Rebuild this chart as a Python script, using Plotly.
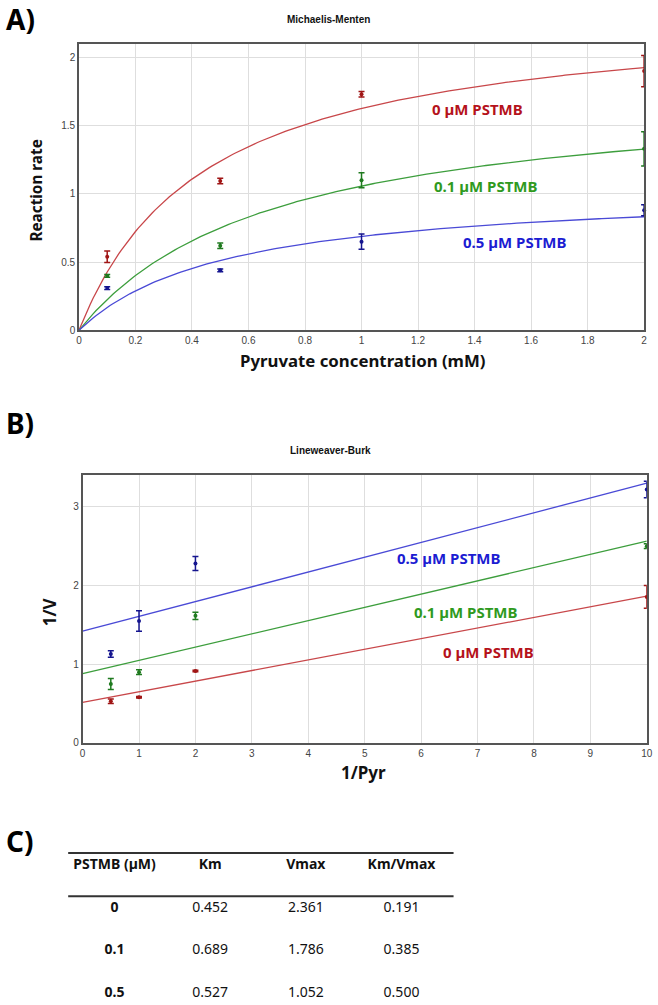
import numpy as np
import plotly.graph_objects as go

# ---------------- data ----------------
series = ["0 µM PSTMB", "0.1 µM PSTMB", "0.5 µM PSTMB"]
pstmb_labels = ["0", "0.1", "0.5"]
km = [0.452, 0.689, 0.527]
vmax = [2.361, 1.786, 1.052]
km_vmax = ["0.191", "0.385", "0.500"]

# Michaelis-Menten measured points
mm_x = [0.1, 0.5, 1, 2]
mm_y = [[0.54, 1.095, 1.73, 1.90],
        [0.40, 0.62, 1.10, 1.33],
        [0.31, 0.44, 0.65, 0.88]]
mm_err = [[0.042, 0.02, 0.02, 0.115],
          [0.01, 0.02, 0.055, 0.125],
          [0.01, 0.01, 0.056, 0.04]]

# Lineweaver-Burk measured points
lb_x = [0.5, 1, 2, 10]
lb_y = [[0.53, 0.58, 0.915, 1.855],
        [0.75, 0.90, 1.615, 2.50],
        [1.13, 1.55, 2.28, 3.22]]
lb_err = [[0.03, 0.01, 0.01, 0.145],
          [0.07, 0.03, 0.046, 0.03],
          [0.04, 0.13, 0.09, 0.105]]
# Lineweaver-Burk fit lines (value at 1/Pyr = 0 and at 1/Pyr = 10)
lb_line_x = [0, 10]
lb_line_y = [[0.515, 1.865],
             [0.88, 2.565],
             [1.42, 3.30]]

table_header = ["PSTMB (µM)", "Km", "Vmax", "Km/Vmax"]
table_km = ["0.452", "0.689", "0.527"]
table_vmax = ["2.361", "1.786", "1.052"]

# ---------------- styles ----------------
line_colors = ["#c8474a", "#3d9e3d", "#4a4ad6"]
point_colors = ["#a01515", "#1f7a1f", "#15158f"]
text_colors = ["#b5121b", "#2f9a1e", "#1c1cd2"]

W, H = 658, 1005
def px(x):
    return x / W
def py(y):
    return 1 - y / H

fig = go.Figure()

# ---- panel A ----
s_grid = np.linspace(0, 2, 201)
for i in range(3):
    fig.add_trace(go.Scatter(
        x=s_grid, y=vmax[i] * s_grid / (km[i] + s_grid), mode="lines",
        line=dict(color=line_colors[i], width=1.3), xaxis="x", yaxis="y",
        showlegend=False, hoverinfo="skip"))
for i in range(3):
    fig.add_trace(go.Scatter(
        x=mm_x, y=mm_y[i], mode="markers",
        marker=dict(color=point_colors[i], size=4),
        error_y=dict(type="data", array=mm_err[i], color=point_colors[i],
                     thickness=1.5, width=3),
        xaxis="x", yaxis="y", showlegend=False, cliponaxis=False))

# ---- panel B ----
for i in range(3):
    fig.add_trace(go.Scatter(
        x=lb_line_x, y=lb_line_y[i], mode="lines",
        line=dict(color=line_colors[i], width=1.3), xaxis="x2", yaxis="y2",
        showlegend=False, hoverinfo="skip"))
for i in range(3):
    fig.add_trace(go.Scatter(
        x=lb_x, y=lb_y[i], mode="markers",
        marker=dict(color=point_colors[i], size=4),
        error_y=dict(type="data", array=lb_err[i], color=point_colors[i],
                     thickness=1.5, width=3),
        xaxis="x2", yaxis="y2", showlegend=False, cliponaxis=False))

# ---- panel C (table) ----
cols = list(range(4))
fig.add_trace(go.Scatter(
    x=cols, y=[0] * 4, mode="text",
    text=["<b>%s</b>" % h for h in table_header],
    textfont=dict(family="Noto Sans", size=14, color="#111"),
    xaxis="x3", yaxis="y3", showlegend=False, hoverinfo="skip",
    cliponaxis=False))
for r in range(3):
    fig.add_trace(go.Scatter(
        x=cols, y=[r + 1] * 4, mode="text",
        text=["<b>%s</b>" % pstmb_labels[r], table_km[r], table_vmax[r], km_vmax[r]],
        textfont=dict(family="Noto Sans", size=14, color="#111"),
        xaxis="x3", yaxis="y3", showlegend=False, hoverinfo="skip",
        cliponaxis=False))

axis_common = dict(showgrid=True, gridcolor="#dedede", gridwidth=1,
                   zeroline=False, showline=True, linecolor="#555",
                   linewidth=1.5, mirror=True, ticks="",
                   tickfont=dict(family="Liberation Sans", size=10, color="#444"))

fig.update_layout(
    width=W, height=H, margin=dict(l=0, r=0, t=0, b=0),
    paper_bgcolor="white", plot_bgcolor="white",
    xaxis=dict(domain=[px(77), px(650)], range=[0, 2], dtick=0.2,
               anchor="y", **axis_common),
    yaxis=dict(domain=[py(332), py(44)], range=[0, 2.1], dtick=0.5,
               anchor="x", **axis_common),
    xaxis2=dict(domain=[px(80.7), px(652.7)], range=[0, 10], dtick=1,
                anchor="y2", **axis_common),
    yaxis2=dict(domain=[py(746.7), py(477.7)], range=[0, 3.4], dtick=1,
                anchor="x2", **axis_common),
    xaxis3=dict(domain=[px(66), px(457)], range=[-0.485, 3.546],
                visible=False, anchor="y3"),
    yaxis3=dict(domain=[0, py(850)], range=[3.16, -0.468],
                visible=False, anchor="x3"),
)

# table rules
for yv in [-0.30, 0.72]:
    fig.add_shape(type="line", xref="x3", yref="y3", x0=-0.485, x1=3.546,
                  y0=yv, y1=yv, line=dict(color="#333", width=2))

def pann(text, x, y, size, family="Noto Sans", angle=0, xanchor="center"):
    return dict(text=text, x=px(x), y=py(y), xref="paper", yref="paper",
                xanchor=xanchor, yanchor="middle", showarrow=False,
                textangle=angle, font=dict(family=family, size=size, color="#111"))

ann = []
# panel letters
for label, yy in [("A)", 19), ("B)", 425), ("C)", 845)]:
    a = pann("<b>%s</b>" % label, 1, yy, 28, xanchor="left")
    a["font"]["color"] = "#000"
    ann.append(a)
# chart titles
ann.append(pann("<b>Michaelis-Menten</b>", 330, 20, 10, "Liberation Sans"))
ann.append(pann("<b>Lineweaver-Burk</b>", 332, 453, 10, "Liberation Sans"))
# axis titles
ann.append(pann("<b>Reaction rate</b>", 34, 192, 15.3, angle=-90))
ann.append(pann("<b>Pyruvate concentration (mM)</b>", 365, 362, 16.8))
ann.append(pann("<b>1/V</b>", 48, 615, 17, angle=-90))
ann.append(pann("<b>1/Pyr</b>", 365, 776, 17))
# series labels
mm_lab_pos = [(1.41, 1.62), (1.44, 1.06), (1.54, 0.65)]
lb_lab_pos = [(7.19, 1.16), (6.79, 1.66), (6.49, 2.35)]
for i in range(3):
    ann.append(dict(text="<b>%s</b>" % series[i], x=mm_lab_pos[i][0],
                    y=mm_lab_pos[i][1], xref="x", yref="y", showarrow=False,
                    xanchor="center", yanchor="middle",
                    font=dict(family="Noto Sans", size=15, color=text_colors[i])))
    ann.append(dict(text="<b>%s</b>" % series[i], x=lb_lab_pos[i][0],
                    y=lb_lab_pos[i][1], xref="x2", yref="y2", showarrow=False,
                    xanchor="center", yanchor="middle",
                    font=dict(family="Noto Sans", size=15, color=text_colors[i])))
fig.update_layout(annotations=ann)

fig.write_html(
    "out.html",
    config={"displayModeBar": False},
    post_script="document.body.style.margin='0px';"
                "document.body.style.overflow='hidden';",
)
